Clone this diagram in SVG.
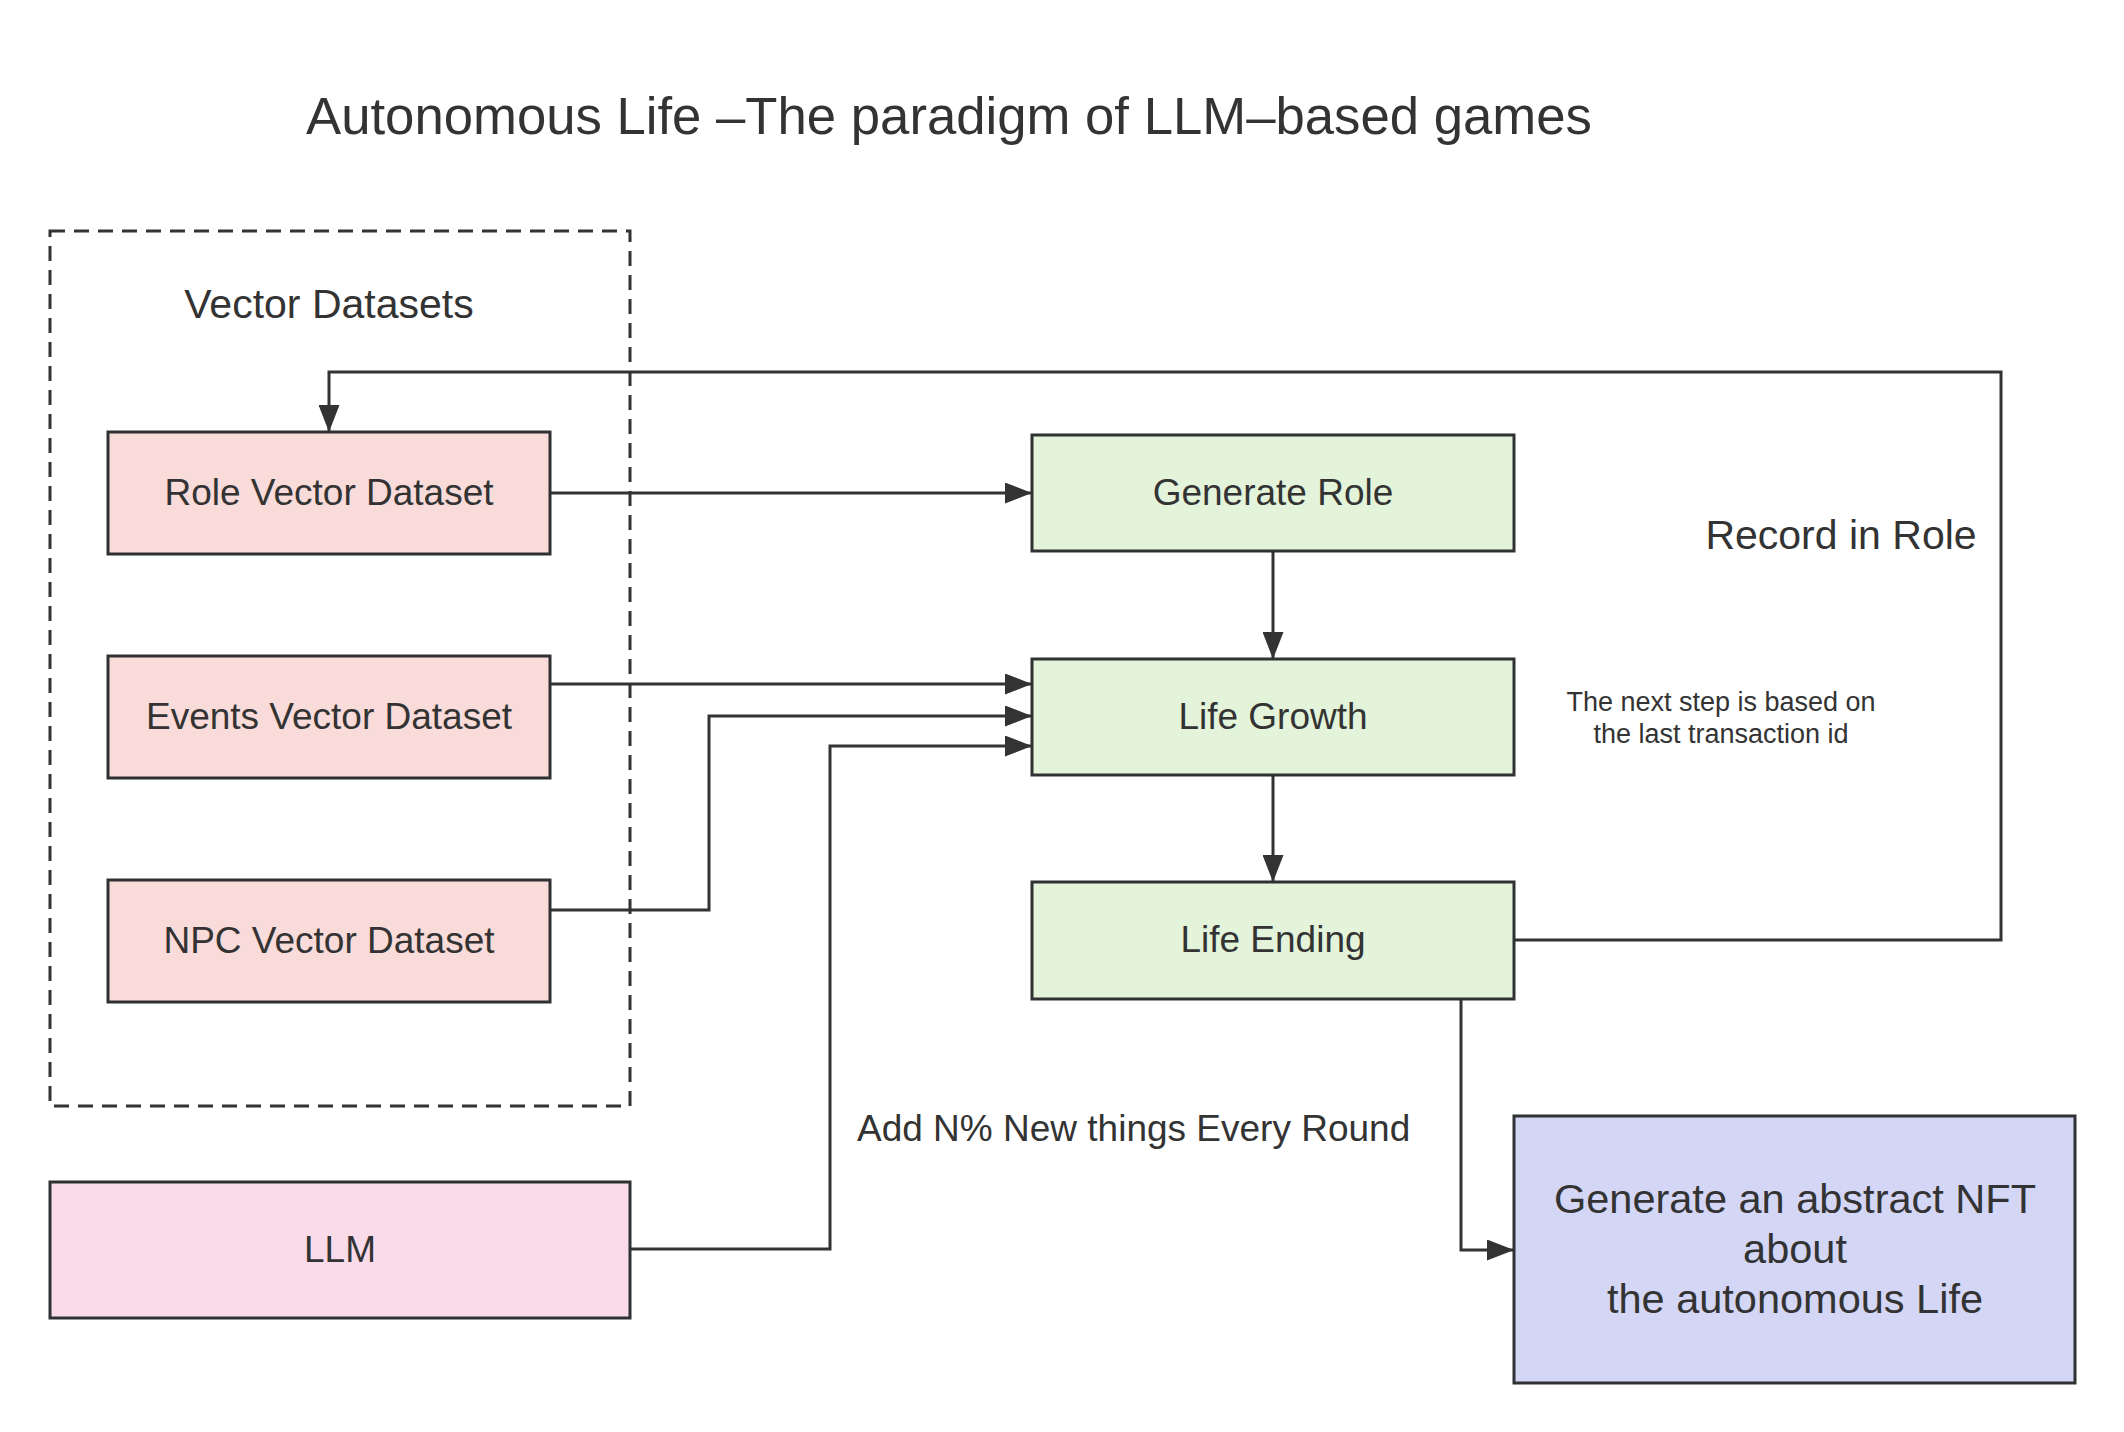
<svg xmlns="http://www.w3.org/2000/svg" width="2124" height="1432" viewBox="0 0 2124 1432">
<style>
text{font-family:"Liberation Sans",Arial,sans-serif;fill:#333333}
.node{stroke:#2f3133;stroke-width:3}
.role{fill:#f9dbd9}
.green{fill:#e3f4da}
.llm{fill:#f9dbea}
.nft{fill:#d4d6f6}
.nt{font-size:37px;text-anchor:middle}
.conn{fill:none;stroke:#333333;stroke-width:3}
</style>
<defs>
<marker id="arr" markerUnits="userSpaceOnUse" markerWidth="27" markerHeight="21" refX="27" refY="10.5" orient="auto">
<path d="M0,0 L27,10.5 L0,21 z" fill="#333333"/>
</marker>
</defs>
<rect width="2124" height="1432" fill="#ffffff"/>
<text x="306" y="134" font-size="52.7">Autonomous Life –The paradigm of LLM–based games</text>

<g id="group-vector-datasets">
<rect x="50" y="231" width="580" height="875" fill="none" stroke="#333333" stroke-width="3" stroke-dasharray="15 9"/>
<text x="329" y="318" font-size="41" text-anchor="middle">Vector Datasets</text>
</g>

<g id="connectors">
<path class="conn" d="M1514,940 H2001 V372 H329 V432" marker-end="url(#arr)"/>
<path class="conn" d="M550,493 H1032" marker-end="url(#arr)"/>
<path class="conn" d="M550,684 H1032" marker-end="url(#arr)"/>
<path class="conn" d="M550,910 H709 V716 H1032" marker-end="url(#arr)"/>
<path class="conn" d="M630,1249 H830 V746 H1032" marker-end="url(#arr)"/>
<path class="conn" d="M1273,551 V659" marker-end="url(#arr)"/>
<path class="conn" d="M1273,775 V882" marker-end="url(#arr)"/>
<path class="conn" d="M1461,999 V1250 H1514" marker-end="url(#arr)"/>
</g>

<g id="node-role-vector">
<rect class="node role" x="108" y="432" width="442" height="122"/>
<text class="nt" x="329" y="505">Role Vector Dataset</text>
</g>
<g id="node-events-vector">
<rect class="node role" x="108" y="656" width="442" height="122"/>
<text class="nt" x="329" y="729">Events Vector Dataset</text>
</g>
<g id="node-npc-vector">
<rect class="node role" x="108" y="880" width="442" height="122"/>
<text class="nt" x="329" y="953">NPC Vector Dataset</text>
</g>
<g id="node-llm">
<rect class="node llm" x="50" y="1182" width="580" height="136"/>
<text class="nt" x="340" y="1262">LLM</text>
</g>
<g id="node-generate-role">
<rect class="node green" x="1032" y="435" width="482" height="116"/>
<text class="nt" x="1273" y="505">Generate Role</text>
</g>
<g id="node-life-growth">
<rect class="node green" x="1032" y="659" width="482" height="116"/>
<text class="nt" x="1273" y="729">Life Growth</text>
</g>
<g id="node-life-ending">
<rect class="node green" x="1032" y="882" width="482" height="117"/>
<text class="nt" x="1273" y="952">Life Ending</text>
</g>
<g id="node-nft">
<rect class="node nft" x="1514" y="1116" width="561" height="267"/>
<text font-size="41.5" text-anchor="middle" x="1795" y="1213">Generate an abstract NFT</text>
<text font-size="41.5" text-anchor="middle" x="1795" y="1263">about</text>
<text font-size="41.5" text-anchor="middle" x="1795" y="1313">the autonomous Life</text>
</g>

<g id="labels">
<text x="1841" y="549" font-size="41" text-anchor="middle">Record in Role</text>
<text x="1721" y="711" font-size="27" text-anchor="middle">The next step is based on</text>
<text x="1721" y="743" font-size="27" text-anchor="middle">the last transaction id</text>
<text x="857" y="1141" font-size="37">Add N% New things Every Round</text>
</g>
</svg>
